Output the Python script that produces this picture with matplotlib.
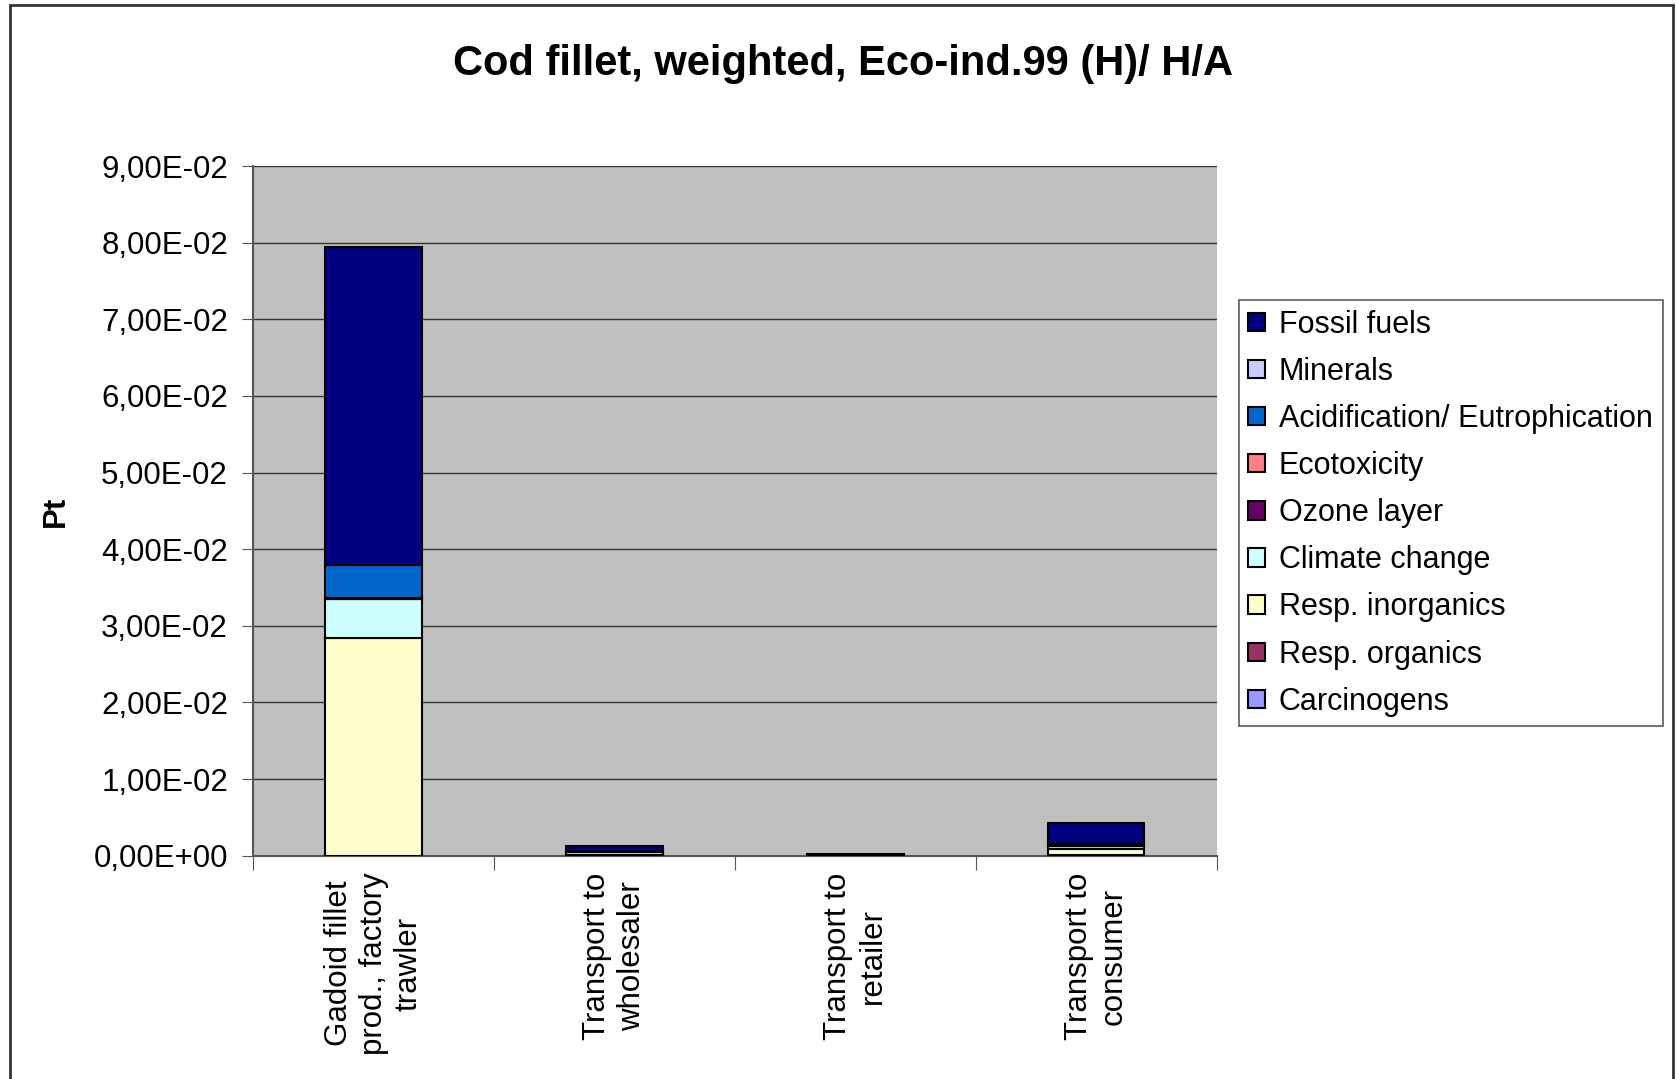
import numpy as np
import matplotlib.pyplot as plt
from matplotlib.patches import Rectangle

plt.rcParams['font.family'] = ['Liberation Sans', 'DejaVu Sans']

# process steps (x categories)
steps = ['Gadoid fillet\nprod., factory\ntrawler', 'Transport to\nwholesaler',
         'Transport to\nretailer', 'Transport to\nconsumer']

# impact categories, stacked bottom -> top
categories = ['Carcinogens', 'Resp. organics', 'Resp. inorganics', 'Climate change',
              'Ozone layer', 'Ecotoxicity', 'Acidification/ Eutrophication',
              'Minerals', 'Fossil fuels']
colors = ['#9999FF', '#993366', '#FFFFCC', '#CCFFFF', '#660066',
          '#FF8080', '#0066CC', '#CCCCFF', '#000080']

# weighted scores (Pt) per step
carcinogens = [0.00000, 0.00002, 0.00000, 0.00002]
resp_organics = [0.00000, 0.00000, 0.00000, 0.00000]
resp_inorganics = [0.02840, 0.00040, 0.00008, 0.00090]
climate_change = [0.00510, 0.00010, 0.00003, 0.00030]
ozone_layer = [0.00005, 0.00000, 0.00000, 0.00001]
ecotoxicity = [0.00010, 0.00002, 0.00000, 0.00005]
acidification = [0.00430, 0.00005, 0.00001, 0.00020]
minerals = [0.00005, 0.00000, 0.00000, 0.00000]
fossil_fuels = [0.04150, 0.00070, 0.00015, 0.00280]

yticks = [0.00, 0.01, 0.02, 0.03, 0.04, 0.05, 0.06, 0.07, 0.08, 0.09]
ytick_labels = ['0,00E+00', '1,00E-02', '2,00E-02', '3,00E-02', '4,00E-02',
                '5,00E-02', '6,00E-02', '7,00E-02', '8,00E-02', '9,00E-02']

series = [carcinogens, resp_organics, resp_inorganics, climate_change, ozone_layer,
          ecotoxicity, acidification, minerals, fossil_fuels]

fig = plt.figure(figsize=(16.76, 10.79), dpi=100)
ax = fig.add_axes([0.151, 0.207, 0.575, 0.639])
ax.set_facecolor('#C0C0C0')

x = np.arange(len(steps)) + 0.5
bottom = np.zeros(len(steps))
handles = []
for name, vals, col in zip(categories, series, colors):
    vals = np.array(vals)
    b = ax.bar(x, vals, width=0.40, bottom=bottom, color=col,
               edgecolor='black', linewidth=1.5, label=name, zorder=3)
    handles.append(b)
    bottom += vals

ax.set_xlim(0, len(steps))
ax.set_ylim(0, 0.09)
ax.set_yticks(yticks)
ax.set_yticklabels(ytick_labels, fontsize=22.5)
ax.yaxis.grid(True, color='#333333', linewidth=1.0, zorder=0)
ax.set_axisbelow(True)

# category ticks sit on the boundaries, labels in the middle
ax.set_xticks(np.arange(len(steps) + 1))
ax.set_xticklabels([])
ax.set_xticks(x, minor=True)
ax.set_xticklabels(steps, minor=True, rotation=90, fontsize=22.5,
                   ha='center', va='top', multialignment='center')
ax.tick_params(axis='x', which='minor', length=0, pad=12)
ax.tick_params(axis='x', which='major', length=10, color='#555555', direction='out')
ax.tick_params(axis='y', length=8, color='#555555', direction='out', pad=10)

for side in ['top', 'right']:
    ax.spines[side].set_visible(False)
for side in ['left', 'bottom']:
    ax.spines[side].set_color('#555555')
    ax.spines[side].set_linewidth(1.5)

ax.set_ylabel('Pt', fontsize=22.5, fontweight='bold', labelpad=16)
fig.text(0.503, 0.941, 'Cod fillet, weighted, Eco-ind.99 (H)/ H/A',
         ha='center', va='center', fontsize=30, fontweight='bold')

leg = fig.legend(handles[::-1], categories[::-1], loc='upper left',
                 bbox_to_anchor=(0.739, 0.722), fontsize=22, frameon=True,
                 fancybox=False, edgecolor='#333333', handlelength=0.55,
                 handleheight=0.55, handletextpad=0.45, labelspacing=0.56,
                 borderpad=0.32, borderaxespad=0)
leg.get_frame().set_linewidth(1.2)

# outer chart frame
fig.patches.append(Rectangle((0.0057, -0.02), 0.9925, 1.015, transform=fig.transFigure,
                             fill=False, edgecolor='#333333', linewidth=2))

fig.savefig('out.png', dpi=100)
